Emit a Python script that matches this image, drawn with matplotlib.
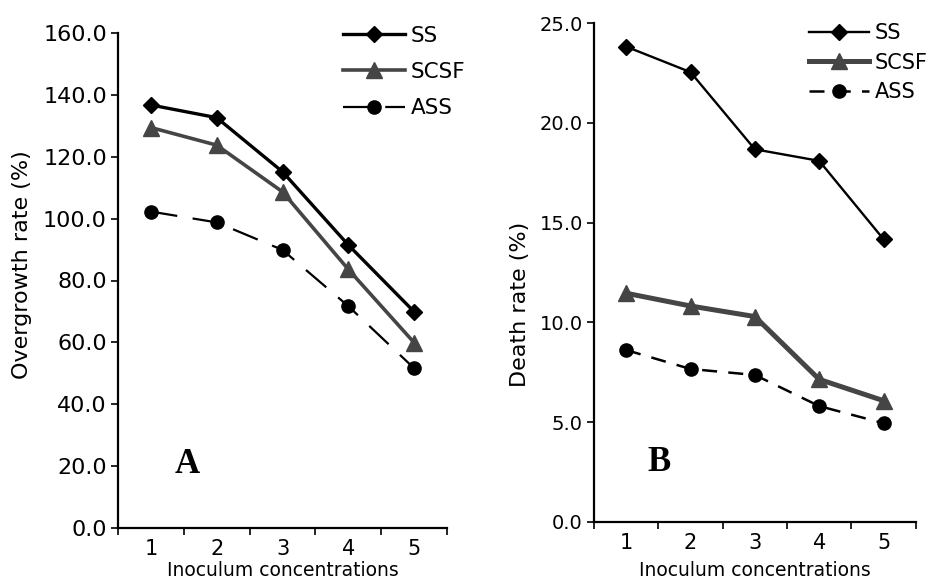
import matplotlib
matplotlib.use("Agg")
import matplotlib.pyplot as plt
from matplotlib.ticker import FixedLocator, FormatStrFormatter

plt.rcParams['font.family'] = ['DejaVu Sans']

concentrations = [1, 2, 3, 4, 5]

# panel A: overgrowth rate (%)
over_ss = [136.8, 132.7, 115.2, 91.5, 69.9]
over_scsf = [129.5, 123.8, 108.7, 83.6, 59.9]
over_ass = [102.3, 98.8, 89.9, 71.7, 51.6]

# panel B: death rate (%)
death_ss = [23.83, 22.55, 18.68, 18.1, 14.17]
death_scsf = [11.46, 10.82, 10.29, 7.14, 6.07]
death_ass = [8.61, 7.66, 7.36, 5.8, 4.94]

GRAY = '#454545'

fig = plt.figure(figsize=(9.34, 5.83), dpi=100)
W, H = 934, 583


def px_axes(left, right, top, bottom):
    return fig.add_axes([left / W, (H - bottom) / H, (right - left) / W, (bottom - top) / H])


def style_axes(ax, ymax, ystep, ylabel, ysize):
    ax.set_xlim(0.5, 5.5)
    ax.set_ylim(0, ymax)
    for side in ('top', 'right'):
        ax.spines[side].set_visible(False)
    for side in ('left', 'bottom'):
        ax.spines[side].set_linewidth(1.6)
    ax.set_xticks(concentrations)
    ax.xaxis.set_minor_locator(FixedLocator([0.5, 1.5, 2.5, 3.5, 4.5, 5.5]))
    ax.tick_params(axis='x', which='major', length=0, pad=8, labelsize=15)
    ax.tick_params(axis='x', which='minor', length=5, width=1.2, direction='out')
    ax.set_yticks([ystep * i for i in range(int(round(ymax / ystep)) + 1)])
    ax.yaxis.set_major_formatter(FormatStrFormatter('%.1f'))
    ax.tick_params(axis='y', length=5, width=1.2, direction='out', pad=3, labelsize=ysize)
    ax.set_xlabel('Inoculum concentrations', fontsize=13.5, va='center')
    ax.set_ylabel(ylabel, fontsize=16, va='center')


# ---- panel A ----
axA = px_axes(118, 447, 33.3, 527.7)
axA.plot(concentrations, over_ss, color='black', lw=2.4, marker='D', ms=8,
         mfc='black', mec='black', label='SS', clip_on=False, zorder=4)
axA.plot(concentrations, over_scsf, color=GRAY, lw=2.6, marker='^', ms=11,
         mfc=GRAY, mec=GRAY, label='SCSF', clip_on=False, zorder=3)
axA.plot(concentrations, over_ass, color='black', lw=1.6, marker='o', ms=9.5,
         dashes=(12, 7), label='ASS', clip_on=False, zorder=2)
style_axes(axA, 160, 20, 'Overgrowth rate (%)', 16)
axA.xaxis.set_label_coords(0.5, -(571 - 527.7) / 494.4)
axA.yaxis.set_label_coords(-(118 - 22) / 329, (527.7 - 265) / 494.4)
axA.text(0.21, 0.127, 'A', transform=axA.transAxes, fontsize=25,
         fontweight='bold', family='Liberation Serif', ha='center', va='center')
axA.legend(loc='upper left', bbox_to_anchor=(0.684, 1.015), frameon=False,
           fontsize=15.5, handlelength=2.9, handletextpad=0.25, labelspacing=0.75,
           borderpad=0, borderaxespad=0)

# ---- panel B ----
axB = px_axes(594, 915.7, 23.3, 521.7)
axB.plot(concentrations, death_ss, color='black', lw=1.7, marker='D', ms=8,
         mfc='black', mec='black', label='SS', clip_on=False, zorder=4)
axB.plot(concentrations, death_scsf, color=GRAY, lw=3.6, marker='^', ms=11,
         mfc=GRAY, mec=GRAY, label='SCSF', clip_on=False, zorder=3)
axB.plot(concentrations, death_ass, color='black', lw=1.8, marker='o', ms=9.5,
         dashes=(6, 4.5), label='ASS', clip_on=False, zorder=2)
style_axes(axB, 25, 5, 'Death rate (%)', 14)
axB.xaxis.set_label_coords(0.5, -(571 - 521.7) / 498.4)
axB.yaxis.set_label_coords(-(594 - 520) / 321.7, (521.7 - 304) / 498.4)
axB.text(0.202, 0.118, 'B', transform=axB.transAxes, fontsize=25,
         fontweight='bold', family='Liberation Serif', ha='center', va='center')
axB.legend(loc='upper left', bbox_to_anchor=(0.668, 1.0), frameon=False,
           fontsize=15, handlelength=2.9, handletextpad=0.25, labelspacing=0.45,
           borderpad=0, borderaxespad=0)

fig.savefig('out.png', dpi=100)
